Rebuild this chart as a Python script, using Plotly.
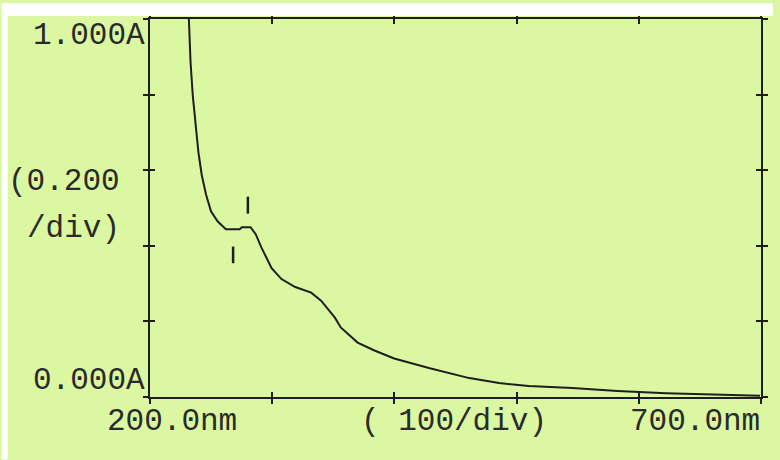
import plotly.graph_objects as go

# Absorption spectrum, 200-700 nm, 0-1 A full scale
wavelength_nm = [231.8, 233.2, 235.0, 237.0, 239.6, 242.3, 245.9, 249.9, 255.3, 262.1,
                 273.4, 275.2, 282.3, 286.6, 291.4, 299.5, 307.6, 318.9, 331.9, 340.0,
                 351.3, 356.1, 369.9, 383.7, 399.8, 429.0, 461.3, 485.6, 509.9, 545.5,
                 582.7, 622.3, 677.3, 699.2]
absorbance = [1.000, 0.885, 0.798, 0.727, 0.648, 0.588, 0.535, 0.491, 0.465, 0.444,
              0.444, 0.449, 0.449, 0.430, 0.394, 0.341, 0.312, 0.291, 0.276, 0.255,
              0.210, 0.184, 0.144, 0.123, 0.102, 0.076, 0.050, 0.037, 0.029, 0.024,
              0.016, 0.010, 0.005, 0.003]

# Peak / valley pick marks (wavelength, absorbance span)
peak_mark_nm = [280.1, 280.1]
peak_mark_abs = [0.485, 0.530]
valley_mark_nm = [268.0, 268.0]
valley_mark_abs = [0.354, 0.398]

x_range = [200, 700]
y_range = [0, 1]
x_div = 100
y_div = 0.2

W, H = 780, 460
ML, MR, MT, MB = 150, 12, 16, 63
PW, PH = W - ML - MR, H - MT - MB

BG = "#dbf7a1"
INK = "#1e1e1e"
TXT = "#2a2a2a"
FONT = dict(family="Liberation Mono", size=31, color=TXT)


def px(x):
    return (x - ML) / PW


def py(y):
    return (H - MB - y) / PH


fig = go.Figure()
fig.add_trace(go.Scatter(x=wavelength_nm, y=absorbance, mode="lines",
                         line=dict(color=INK, width=2), hoverinfo="skip"))
for xs, ys in [(peak_mark_nm, peak_mark_abs), (valley_mark_nm, valley_mark_abs)]:
    fig.add_trace(go.Scatter(x=xs, y=ys, mode="lines", xaxis="x2", yaxis="y2",
                             line=dict(color=INK, width=2.5), hoverinfo="skip"))

axis_common = dict(showgrid=False, zeroline=False, showticklabels=False,
                   showline=True, linecolor=INK, linewidth=2,
                   tickcolor=INK, tickwidth=2, ticklen=5, mirror="allticks")

fig.update_layout(
    width=W, height=H,
    margin=dict(l=ML, r=MR, t=MT, b=MB, pad=0),
    paper_bgcolor=BG, plot_bgcolor=BG,
    showlegend=False,
    xaxis=dict(range=x_range, tick0=x_range[0], dtick=x_div, ticks="inside", **axis_common),
    yaxis=dict(range=y_range, tick0=y_range[0], dtick=y_div, ticks="inside", **axis_common),
    xaxis2=dict(range=x_range, tick0=x_range[0], dtick=x_div, ticks="outside",
                overlaying="x", side="bottom", **axis_common),
    yaxis2=dict(range=y_range, tick0=y_range[0], dtick=y_div, ticks="outside",
                overlaying="y", side="left", **axis_common),
)

labels = [
    ("1.000A", 146, 33, "right"),
    ("(0.200", 121, 180, "right"),
    ("/div)", 121, 227, "right"),
    ("0.000A", 146, 380, "right"),
    ("200.0nm", 106, 422, "left"),
    ("( 100/div)", 362, 422, "left"),
    ("700.0nm", 768, 422, "right"),
]
for text, x, y, anchor in labels:
    fig.add_annotation(text=text, x=px(x), y=py(y), xref="paper", yref="paper",
                       xanchor=anchor, yanchor="middle", showarrow=False,
                       font=FONT, borderpad=0)

# white scan margins along the top and left edges
fig.add_shape(type="rect", xref="paper", yref="paper", layer="above",
              x0=px(0), x1=px(W), y0=py(0), y1=py(13),
              fillcolor="white", line=dict(width=0))
fig.add_shape(type="rect", xref="paper", yref="paper", layer="above",
              x0=px(0), x1=px(6), y0=py(0), y1=py(H),
              fillcolor="white", line=dict(width=0))

fig.write_html("out.html")
